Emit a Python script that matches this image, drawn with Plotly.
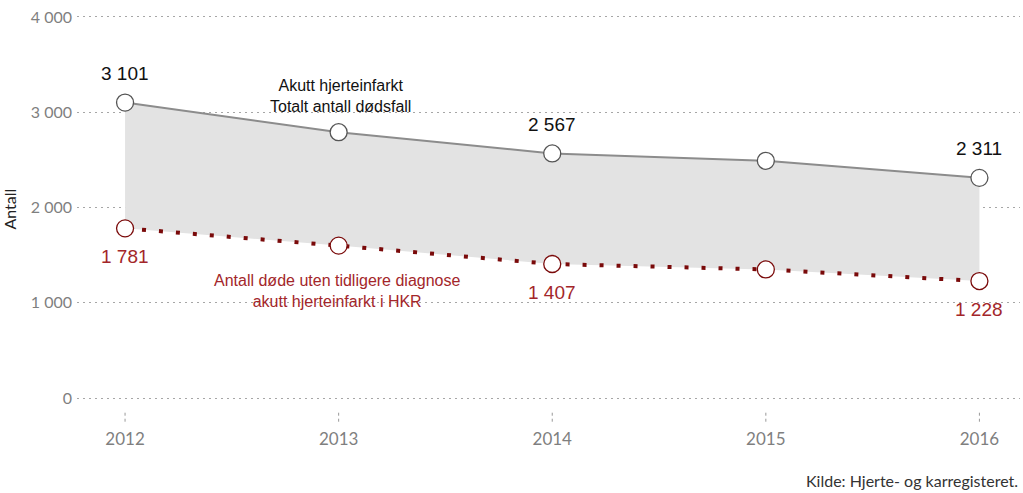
import plotly.graph_objects as go

years = [2012, 2013, 2014, 2015, 2016]
total_deaths = [3101, 2790, 2567, 2490, 2311]
no_prior_dx = [1781, 1600, 1407, 1350, 1228]
labeled_years = [2012, 2014, 2016]
y_ticks = [0, 1000, 2000, 3000, 4000]

def fmt(v):
    return f"{v:,}".replace(",", " ")

RED = "#7a0a0a"
RED_TXT = "#a3262a"
GREY_LINE = "#8c8c8c"
TICK_FONT = "Lato, Open Sans"
LABEL_FONT = "Liberation Sans, Arial"

fig = go.Figure()
fig.add_trace(go.Scatter(x=years, y=no_prior_dx, mode="lines",
                         line=dict(width=0, color="rgba(0,0,0,0)"),
                         hoverinfo="skip", showlegend=False))
fig.add_trace(go.Scatter(x=years, y=total_deaths, mode="lines",
                         fill="tonexty", fillcolor="#e3e3e3",
                         line=dict(color=GREY_LINE, width=2),
                         showlegend=False))
fig.add_trace(go.Scatter(x=years, y=no_prior_dx, mode="lines",
                         line=dict(color=RED, width=4, dash="4px,13px"),
                         showlegend=False))
fig.add_trace(go.Scatter(x=years, y=total_deaths, mode="markers",
                         marker=dict(symbol="circle", size=17, color="white",
                                     line=dict(color="#555555", width=1.3)),
                         showlegend=False, cliponaxis=False))
fig.add_trace(go.Scatter(x=years, y=no_prior_dx, mode="markers",
                         marker=dict(symbol="circle", size=17, color="white",
                                     line=dict(color=RED, width=1.3)),
                         showlegend=False, cliponaxis=False))

annotations = []
for x, v in zip(years, total_deaths):
    if x in labeled_years:
        annotations.append(dict(x=x, y=v, text=fmt(v), showarrow=False, yshift=29,
                                font=dict(family=LABEL_FONT, size=19, color="#111")))
for x, v in zip(years, no_prior_dx):
    if x in labeled_years:
        annotations.append(dict(x=x, y=v, text=fmt(v), showarrow=False, yshift=-28,
                                font=dict(family=LABEL_FONT, size=19, color=RED_TXT)))

annotations.append(dict(x=2013.01, y=total_deaths[1], text="Akutt hjerteinfarkt<br>Totalt antall dødsfall",
                        showarrow=False, yshift=36,
                        font=dict(family=LABEL_FONT, size=16, color="#111")))
annotations.append(dict(x=2012.99, y=no_prior_dx[1], text="Antall døde uten tidligere diagnose<br>akutt hjerteinfarkt i HKR",
                        showarrow=False, yshift=-45,
                        font=dict(family=LABEL_FONT, size=16, color=RED_TXT)))
annotations.append(dict(xref="paper", yref="paper", x=-0.072, xanchor="center", y=0.495, yanchor="middle",
                        text="Antall", textangle=-90, showarrow=False,
                        font=dict(family=TICK_FONT, size=16, color="#222")))
annotations.append(dict(xref="paper", yref="paper", x=1.0, y=-0.21, xanchor="right", yanchor="middle",
                        text="Kilde: Hjerte- og karregisteret.", showarrow=False,
                        font=dict(family=TICK_FONT, size=16, color="#333")))

shapes = []
for x in years:
    shapes.append(dict(type="line", xref="x", yref="paper", x0=x, x1=x, y0=-0.033, y1=-0.057,
                       line=dict(color="#999", width=1, dash="dot")))

fig.update_layout(
    width=1023, height=493,
    margin=dict(l=77, r=3, t=15, b=93),
    paper_bgcolor="white", plot_bgcolor="white",
    annotations=annotations,
    shapes=shapes,
    xaxis=dict(range=[2011.775, 2016.19], tickvals=years, ticktext=[str(y) for y in years],
               showgrid=False, zeroline=False, showline=False, ticks="",
               ticklabelstandoff=27, automargin=False,
               tickfont=dict(family=TICK_FONT, size=17, color="#7f7f7f")),
    yaxis=dict(range=[-20, 4020], tickvals=y_ticks, ticktext=[fmt(v) for v in y_ticks],
               showgrid=True, gridcolor="#a6a6a6", griddash="2px,4px", gridwidth=1,
               zeroline=False, showline=False, ticks="",
               ticklabelstandoff=4, automargin=False,
               tickfont=dict(family=TICK_FONT, size=16, color="#7f7f7f")),
)

fig.write_html("out.html", config={"displayModeBar": False},
               post_script="document.body.style.margin='0px';")
